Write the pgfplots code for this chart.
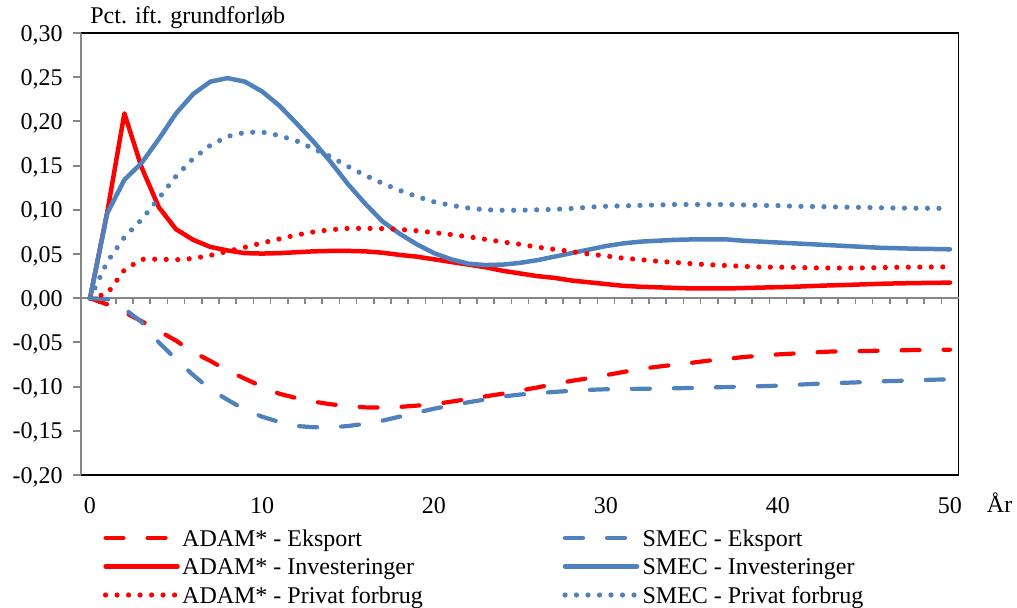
\documentclass[border=0pt]{standalone}
\usepackage{fontspec}
\setmainfont{Liberation Serif}
\usepackage{pgfplots}
\usepackage{pgfplotstable}
\pgfplotsset{compat=1.18}
\definecolor{axgray}{RGB}{134,134,134}
\definecolor{smecblue}{RGB}{79,129,189}
\definecolor{adamred}{RGB}{255,0,0}
\newcommand{\chartfont}{\fontsize{12}{14.4}\selectfont}

\pgfplotstableread{
t ae se ai si ap sp
0 0 0 0 0 0 0
1 -0.007 -0.001 0.097 0.096 0.005 0.041
2 -0.016 -0.012 0.209 0.134 0.032 0.069
3 -0.026 -0.027 0.148 0.153 0.044 0.089
4 -0.037 -0.050 0.103 0.180 0.0442 0.113
5 -0.048 -0.069 0.078 0.209 0.0435 0.138
6 -0.061 -0.087 0.066 0.231 0.045 0.158
7 -0.071 -0.103 0.058 0.245 0.0485 0.173
8 -0.082 -0.115 0.054 0.249 0.053 0.183
9 -0.091 -0.126 0.051 0.245 0.0576 0.1875
10 -0.100 -0.134 0.0505 0.234 0.0625 0.188
11 -0.108 -0.140 0.051 0.218 0.067 0.184
12 -0.113 -0.1445 0.052 0.198 0.0715 0.178
13 -0.117 -0.146 0.053 0.177 0.075 0.169
14 -0.120 -0.146 0.0535 0.154 0.0775 0.160
15 -0.122 -0.1446 0.0535 0.129 0.079 0.149
16 -0.1235 -0.142 0.053 0.107 0.079 0.139
17 -0.1237 -0.1385 0.0515 0.087 0.0787 0.130
18 -0.123 -0.134 0.049 0.073 0.0778 0.122
19 -0.1215 -0.1295 0.047 0.061 0.0763 0.115
20 -0.120 -0.125 0.044 0.051 0.0742 0.109
21 -0.117 -0.1212 0.041 0.044 0.072 0.105
22 -0.114 -0.1177 0.038 0.039 0.0695 0.102
23 -0.111 -0.1145 0.035 0.0375 0.0666 0.100
24 -0.108 -0.1112 0.031 0.038 0.0636 0.0995
25 -0.1045 -0.109 0.028 0.040 0.061 0.0995
26 -0.101 -0.1075 0.025 0.043 0.0578 0.100
27 -0.097 -0.106 0.023 0.047 0.0553 0.1005
28 -0.0935 -0.1047 0.020 0.051 0.0528 0.1015
29 -0.0905 -0.1037 0.018 0.055 0.050 0.103
30 -0.087 -0.103 0.016 0.059 0.0478 0.104
31 -0.0835 -0.1027 0.014 0.062 0.0453 0.1045
32 -0.080 -0.1025 0.013 0.064 0.0437 0.105
33 -0.0775 -0.1022 0.0123 0.065 0.0418 0.1055
34 -0.0752 -0.1019 0.0117 0.066 0.0405 0.106
35 -0.073 -0.1015 0.011 0.0665 0.039 0.106
36 -0.0705 -0.101 0.011 0.0667 0.0379 0.106
37 -0.0688 -0.1005 0.011 0.0665 0.037 0.106
38 -0.0665 -0.100 0.0115 0.065 0.036 0.1055
39 -0.065 -0.0995 0.012 0.064 0.0353 0.105
40 -0.0636 -0.099 0.0125 0.063 0.0351 0.1048
41 -0.0625 -0.098 0.013 0.062 0.0348 0.104
42 -0.0613 -0.097 0.0138 0.061 0.0344 0.1037
43 -0.0604 -0.0962 0.0145 0.060 0.0342 0.1034
44 -0.060 -0.0956 0.015 0.059 0.0342 0.103
45 -0.0597 -0.0949 0.0157 0.058 0.0343 0.1027
46 -0.0594 -0.094 0.0163 0.057 0.0346 0.1023
47 -0.059 -0.0935 0.0168 0.0565 0.035 0.102
48 -0.0586 -0.0928 0.0171 0.056 0.0352 0.1018
49 -0.0584 -0.0922 0.0174 0.0557 0.0353 0.1017
50 -0.0582 -0.0917 0.0176 0.0553 0.0354 0.1016
}\datatable

\begin{document}
\chartfont
\begin{tikzpicture}[font=\chartfont]
\begin{axis}[
  set layers,
  at={(0,0)}, anchor=south west,
  scale only axis, width=438.6pt, height=221pt,
  xmin=-0.5, xmax=50.5, ymin=-0.2, ymax=0.3,
  axis line style={draw=none},
  tick label style={font=\chartfont},
  label style={font=\chartfont},
  xtick={0,10,20,30,40,50},
  xticklabels={0,10,20,30,40,50},
  xtick style={draw=none},
  xticklabel style={anchor=base, yshift=-15pt, inner sep=0pt},
  ytick={-0.2,-0.15,-0.1,-0.05,0,0.05,0.1,0.15,0.2,0.25,0.3},
  yticklabels={{-0,20},{-0,15},{-0,10},{-0,05},{0,00},{0,05},{0,10},{0,15},{0,20},{0,25},{0,30}},
  ytick pos=left, tick align=outside, major tick length=4pt,
  ytick style={draw=axgray, line width=1pt},
  yticklabel style={anchor=base east, inner sep=0pt, xshift=-5.2pt, yshift=-4pt},
  title={Pct. ift. grundforløb},
  title style={font=\chartfont, at={(0,1)}, anchor=base west, xshift=4.3pt, yshift=-1.1pt, inner sep=0pt},
  xlabel={År},
  xlabel style={at={(1,0)}, anchor=base, xshift=20.5pt, yshift=-18.5pt, inner sep=0pt},
  legend columns=2,
  legend cell align=left,
  legend style={draw=none, fill=none, inner sep=0pt, outer sep=0pt, font=\chartfont,
    at={(0.0246,-0.1154)}, anchor=north west,
    nodes={inner sep=0pt, text height=10pt, text depth=2pt},
    row sep=2.25pt,
    /tikz/column 1/.style={column sep=1pt},
    /tikz/column 2/.style={column sep=69.8pt},
    /tikz/column 3/.style={column sep=1.5pt}},
  legend image code/.code={\draw[#1] (0pt,0pt) -- (36pt,0pt);},
  solidl/.style={line width=2.25pt, line cap=round, line join=round},
  dashedl/.style={line width=2.1pt, line cap=round, line join=round, dash pattern=on 9pt off 12pt},
  dottedl/.style={line width=2.6pt, line cap=round, dash pattern=on 0pt off 5.75pt},
]
\begin{pgfonlayer}{pre main}
\draw[black, line width=0.8pt] (rel axis cs:0,0) rectangle (rel axis cs:1,1);
\draw[axgray, line width=1pt] (rel axis cs:0,0) -- (rel axis cs:0,1);
\draw[axgray, line width=1pt] (axis cs:-0.5,0) -- (axis cs:50.5,0);
\pgfplotsinvokeforeach{0.5,1.5,...,49.5}{\draw[axgray, line width=0.8pt] (axis cs:#1,0) -- ++(0pt,-3pt);}
\end{pgfonlayer}
\addplot[adamred, dashedl] table[x=t, y=ae] {\datatable};
\addlegendentry{ADAM* - Eksport}
\addplot[smecblue, dashedl] table[x=t, y=se] {\datatable};
\addlegendentry{SMEC - Eksport}
\addplot[adamred, solidl] table[x=t, y=ai] {\datatable};
\addlegendentry{ADAM* - Investeringer}
\addplot[smecblue, solidl] table[x=t, y=si] {\datatable};
\addlegendentry{SMEC - Investeringer}
\addplot[adamred, dottedl] table[x=t, y=ap] {\datatable};
\addlegendentry{ADAM* - Privat forbrug}
\addplot[smecblue, dottedl] table[x=t, y=sp] {\datatable};
\addlegendentry{SMEC - Privat forbrug}
\end{axis}
\pgfresetboundingbox
\path[use as bounding box] (-40.7pt,-66pt) rectangle (467.8pt,237.5pt);
\end{tikzpicture}
\end{document}
